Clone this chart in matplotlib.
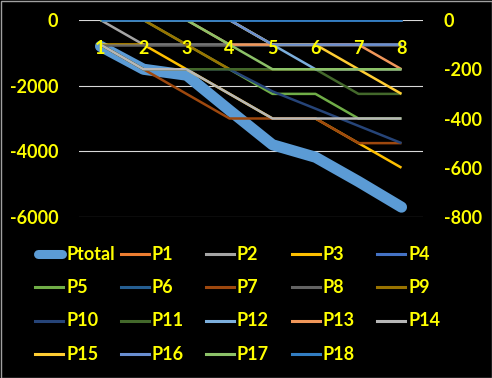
import numpy as np
import matplotlib
matplotlib.use("Agg")
import matplotlib.pyplot as plt
from matplotlib.lines import Line2D
from matplotlib.patches import Rectangle
import matplotlib.transforms as mtransforms

plt.rcParams["axes.unicode_minus"] = False

# DATA ------------------------------------------------------
categories = [1, 2, 3, 4, 5, 6, 7, 8]

# left axis
ptotal = [-800, -1500, -1680, -2750, -3800, -4180, -4920, -5700]

# right axis
p1 = [0, 0, 0, 0, 0, 0, 0, 0]
p2 = [0, -100, -100, -100, -100, -100, -100, -100]
p3 = [-100, -100, -200, -300, -400, -400, -500, -600]
p4 = [0, 0, 0, 0, 0, 0, 0, 0]
p5 = [0, 0, -100, -200, -300, -300, -400, -400]
p6 = [0, 0, 0, 0, 0, 0, 0, 0]
p7 = [-100, -200, -300, -400, -400, -400, -500, -500]
p8 = [-100, -100, -100, -100, -100, -100, -100, -100]
p9 = [0, 0, -100, -200, -200, -200, -200, -200]
p10 = [-100, -200, -200, -200, -290, -360, -430, -500]
p11 = [-100, -200, -200, -200, -200, -200, -300, -300]
p12 = [0, 0, 0, 0, -100, -200, -200, -200]
p13 = [0, 0, 0, -100, -100, -100, -100, -200]
p14 = [-100, -200, -200, -300, -400, -400, -400, -400]
p15 = [0, 0, 0, 0, -100, -100, -200, -300]
p16 = [0, 0, 0, 0, -100, -100, -100, -100]
p17 = [0, 0, 0, -100, -200, -200, -200, -200]
p18 = [0, 0, 0, 0, 0, 0, 0, 0]

p_series = [p1, p2, p3, p4, p5, p6, p7, p8, p9, p10,
            p11, p12, p13, p14, p15, p16, p17, p18]
p_names = ["P%d" % i for i in range(1, 19)]

left_ticks = [0, -2000, -4000, -6000]
right_ticks = [0, -200, -400, -600, -800]

# excel-ish palette
ptotal_color = "#5B9BD5"
p_colors = ["#ED7D31", "#A5A5A5", "#FFC000", "#4472C4", "#70AD47", "#255E91",
            "#9E480E", "#636363", "#997300", "#264478", "#43682B", "#7CAFDD",
            "#F1975A", "#B7B7B7", "#FFCD33", "#698ED0", "#8CC168", "#327DC2"]

YELLOW = "#FFFF00"
FONT = "Lato"
FS = 13

# PLOT -----------------------------------------------------
W, H = 492, 378
fig = plt.figure(figsize=(W / 100, H / 100), dpi=100)
fig.patch.set_facecolor("black")

ax = fig.add_axes([79 / W, 1 - 217 / H, 344 / W, 197 / H])
ax.set_facecolor("black")
ax2 = ax.twinx()

ax.plot(categories, ptotal, color=ptotal_color, lw=8, solid_capstyle="round",
        solid_joinstyle="round", zorder=3)
for vals, col in zip(p_series, p_colors):
    ax2.plot(categories, vals, color=col, lw=1.8, solid_capstyle="butt")

ax.set_xlim(0.5, 8.5)
ax.set_ylim(-6000, 0)
ax2.set_ylim(-800, 0)
ax.set_yticks(left_ticks)
ax2.set_yticks(right_ticks)
ax.set_xticks([])

ax.set_axisbelow(True)
ax.yaxis.grid(True, color="#D9D9D9", lw=0.8)
for a in (ax, ax2):
    for s in a.spines.values():
        s.set_visible(False)
    a.tick_params(length=0, colors=YELLOW)
ax.tick_params(axis="y", pad=15)
ax2.tick_params(axis="y", pad=15)
for lab in ax.get_yticklabels() + ax2.get_yticklabels():
    lab.set_fontfamily(FONT)
    lab.set_fontweight("bold")
    lab.set_fontsize(FS)
    lab.set_color(YELLOW)

# category labels sit near the top of the plot area
trans = mtransforms.blended_transform_factory(ax.transData, ax.transAxes)
for c in categories:
    ax2.text(c, 1 - 28 / 197, str(c), transform=trans, ha="center", va="center",
             color=YELLOW, fontsize=FS, fontweight="bold", family=FONT, zorder=10)

# legend, 5 columns laid out row by row like excel
names = ["Ptotal"] + p_names
colors = [ptotal_color] + p_colors
for i, (name, col) in enumerate(zip(names, colors)):
    r, c = divmod(i, 5)
    x0 = 35 + 85.5 * c
    y0 = 254 + 33.4 * r
    if i == 0:
        fig.add_artist(Line2D([(x0 + 3) / W, (x0 + 27) / W], [1 - y0 / H] * 2,
                              color=col, lw=6.5, solid_capstyle="round"))
    else:
        fig.add_artist(Line2D([x0 / W, (x0 + 28) / W], [1 - y0 / H] * 2,
                              color=col, lw=2.2))
    fig.text((x0 + 31) / W, 1 - y0 / H, name, ha="left", va="center",
             color=YELLOW, fontsize=FS, fontweight="bold", family=FONT)

fig.add_artist(Rectangle((0.5 / W, 0.5 / H), 1 - 1 / W, 1 - 1 / H,
                         transform=fig.transFigure, fill=False,
                         edgecolor="#A0A0A0", lw=1))

fig.savefig("out.png", dpi=100, facecolor="black")
